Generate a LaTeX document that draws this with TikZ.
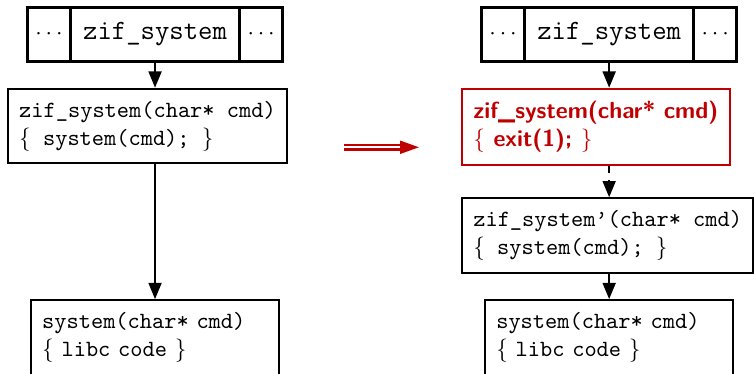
\documentclass[tikz,border=0pt]{standalone}
\usetikzlibrary{positioning,arrows.meta}
\definecolor{darkred}{RGB}{192,0,0}
\begin{document}
\begin{tikzpicture}[
    cell/.style={draw,line width=1.3pt,outer sep=0pt,inner sep=0pt,minimum height=23.2pt},
    codebox/.style={draw,line width=0.9pt,font=\ttfamily,align=left,inner xsep=4.8pt,inner ysep=5.3pt},
    libbox/.style={codebox,text width=97pt},
    arr/.style={line width=1pt,-{Triangle[length=7pt,width=5.5pt]}}
]
    \useasboundingbox (0,0) rectangle (11.39,5.64);
    % call site and libc, same on both sides
    \foreach \s/\x in {l/2.342,r/9.202} {
        \node[cell,minimum width=72.7pt,anchor=north] (\s zif) at (\x,5.53) {\large\ttfamily zif\_system};
        \node[cell,minimum width=18.5pt,left=0pt of \s zif] (\s dotsa) {$\cdots$};
        \node[cell,minimum width=18.5pt,right=0pt of \s zif] (\s dotsb) {$\cdots$};
        \node[libbox,anchor=north] (\s sys) at (\x,1.12) {system(char* cmd)\\$\{$ libc code $\}$};
    }
    % before
    \node[codebox,anchor=north west] (lwrap) at (0.106,4.314) {zif\_system(char* cmd)\\$\{$ system(cmd); $\}$};
    % after
    \node[codebox,draw=darkred,text=darkred,font=\sffamily\bfseries,anchor=north west] (rwrap) at (6.966,4.314) {zif\_system(char* cmd)\\$\{$ exit(1); $\}$};
    \node[codebox,anchor=north west] (rcopy) at (6.966,2.659) {zif\_system\textquoteright(char* cmd)\\$\{$ system(cmd); $\}$};
    \draw[arr] (lzif.south) -- (lzif.south |- lwrap.north);
    \draw[arr] (lwrap.south -| lsys.north) -- (lsys.north);
    \draw[arr] (rzif.south) -- (rzif.south |- rwrap.north);
    \draw[arr,dashed] (rwrap.south -| rzif.south) -- (rzif.south |- rcopy.north);
    \draw[arr] (rcopy.south -| rzif.south) -- (rsys.north);
    \coordinate (tail) at (5.198,3.415);
    \coordinate (tip) at (6.331,3.415);
    \draw[darkred,line width=1.1pt,double=white,double distance=0.8pt,-{Triangle[length=8.2pt,width=5.5pt]}] (tail) -- (tip);
\end{tikzpicture}
\end{document}
